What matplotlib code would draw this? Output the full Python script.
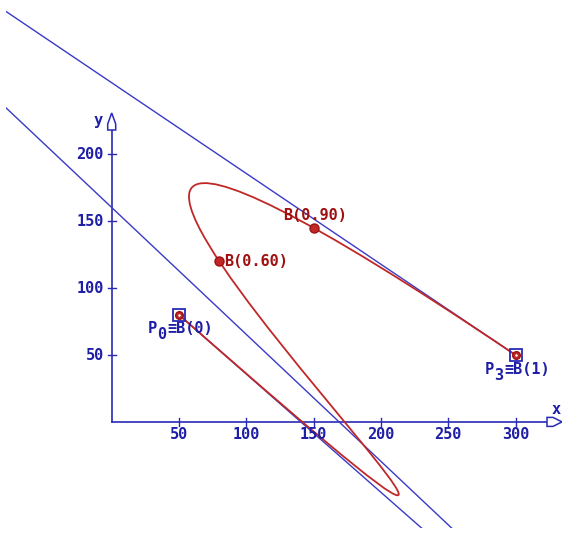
import matplotlib
matplotlib.use("Agg")
import matplotlib.pyplot as plt
from matplotlib.path import Path
from matplotlib.patches import PathPatch, Polygon

# ---- data ----
ctrl_x = [50, 559, -345, 300]        # P0, P1, P2, P3
ctrl_y = [80, -370, 487.5, 50]
pts_x = [80, 150]                     # B(0.60), B(0.90)
pts_y = [120, 145]
pts_labels = ["B(0.60)", "B(0.90)"]
end_names = ["P", "P"]
end_subs = ["0", "3"]
end_rest = ["≡B(0)", "≡B(1)"]
xticks = [50, 100, 150, 200, 250, 300]
yticks = [50, 100, 150, 200]

BLUE = "#3a3ac8"
AXBLUE = "#2a2ab8"
TXTBLUE = "#1e1ea6"
RED = "#c02828"
DRED = "#a01010"

W, H = 562, 533
fig = plt.figure(figsize=(W / 100, H / 100), dpi=100)
ax = fig.add_axes([6 / W, 5 / H, 550 / W, 523 / H])
sx, sy = 1.346, 1.338  # px per data unit
x0px, y0px = 111.7, 421.9
ax.set_xlim((6 - x0px) / sx, (556 - x0px) / sx)
ax.set_ylim((y0px - 528) / sy, (y0px - 5) / sy)
ax.axis("off")

def dx(p):
    return p / sx

def dy(p):
    return p / sy

# control polygon (blue)
ax.plot(ctrl_x, ctrl_y, color=BLUE, lw=1.0, zorder=2)

# Bezier curve (red)
verts = list(zip(ctrl_x, ctrl_y))
path = Path(verts, [Path.MOVETO, Path.CURVE4, Path.CURVE4, Path.CURVE4])
ax.add_patch(PathPatch(path, facecolor="none", edgecolor=RED, lw=1.3, zorder=3))

# axes
xend = (547 - x0px) / sx
ytop = (y0px - 130) / sy
ax.plot([0, xend], [0, 0], color=AXBLUE, lw=1.2, zorder=1, clip_on=False)
ax.plot([0, 0], [0, ytop], color=AXBLUE, lw=1.2, zorder=1, clip_on=False)
xa = Polygon([(xend, dy(4.5)), (xend + dx(6), dy(4.5)), (xend + dx(15), 0),
              (xend + dx(6), -dy(4.5)), (xend, -dy(4.5))], closed=True,
             facecolor="white", edgecolor=AXBLUE, lw=1.1, clip_on=False, zorder=4)
ax.add_patch(xa)
ya = Polygon([(-dx(4), ytop), (-dx(4), ytop + dy(6)), (0, ytop + dy(17)),
              (dx(4), ytop + dy(6)), (dx(4), ytop)], closed=True,
             facecolor="white", edgecolor=AXBLUE, lw=1.1, clip_on=False, zorder=4)
ax.add_patch(ya)

FS = 11
fkw = dict(family="DejaVu Sans Mono", fontweight="bold")
for t in xticks:
    ax.plot([t, t], [-dy(4), dy(4)], color=AXBLUE, lw=1.0, zorder=1)
    ax.annotate(str(t), (t, 0), xytext=(0, -13), textcoords="offset pixels",
                ha="center", va="center", color=TXTBLUE, fontsize=FS, **fkw)
for t in yticks:
    ax.plot([-dx(4), dx(4)], [t, t], color=AXBLUE, lw=1.0, zorder=1)
    ax.annotate(str(t), (0, t), xytext=(-8, 0), textcoords="offset pixels",
                ha="right", va="center", color=TXTBLUE, fontsize=FS, **fkw)

ax.annotate("x", (xend, 0), xytext=(9, 12), textcoords="offset pixels",
            ha="center", va="center", color=TXTBLUE, fontsize=FS, **fkw)
ax.annotate("y", (0, ytop), xytext=(-14, 9), textcoords="offset pixels",
            ha="center", va="center", color=TXTBLUE, fontsize=FS, **fkw)

# end points: blue box + red dot
ex = [ctrl_x[0], ctrl_x[3]]
ey = [ctrl_y[0], ctrl_y[3]]
ax.plot(ex, ey, "s", ms=8, mfc="none", mec=AXBLUE, mew=1.3, zorder=5)
ax.plot(ex, ey, "o", ms=5.5, mfc=RED, mec=DRED, mew=1.0, zorder=6)
ax.plot(ex, ey, "o", ms=1.8, mfc="white", mec="white", mew=0, zorder=7)
adv = 0.602 * FS * 100 / 72
for i in range(2):
    left = -31
    ax.annotate(end_names[i], (ex[i], ey[i]), xytext=(left, -14), textcoords="offset pixels",
                ha="left", va="center", color=TXTBLUE, fontsize=FS, **fkw)
    ax.annotate(end_subs[i], (ex[i], ey[i]), xytext=(left + adv, -20), textcoords="offset pixels",
                ha="left", va="center", color=TXTBLUE, fontsize=FS, **fkw)
    ax.annotate(end_rest[i], (ex[i], ey[i]), xytext=(left + 2 * adv + 1, -14), textcoords="offset pixels",
                ha="left", va="center", color=TXTBLUE, fontsize=FS, **fkw)

# intermediate points
ax.plot(pts_x, pts_y, "o", ms=6.5, mfc=RED, mec=DRED, mew=1.0, zorder=6)
ax.annotate(pts_labels[0], (pts_x[0], pts_y[0]), xytext=(5, 0), textcoords="offset pixels",
            ha="left", va="center", color=DRED, fontsize=FS, **fkw)
ax.annotate(pts_labels[1], (pts_x[1], pts_y[1]), xytext=(1, 12), textcoords="offset pixels",
            ha="center", va="center", color=DRED, fontsize=FS, **fkw)

fig.savefig("out.png", dpi=100, facecolor="white")
